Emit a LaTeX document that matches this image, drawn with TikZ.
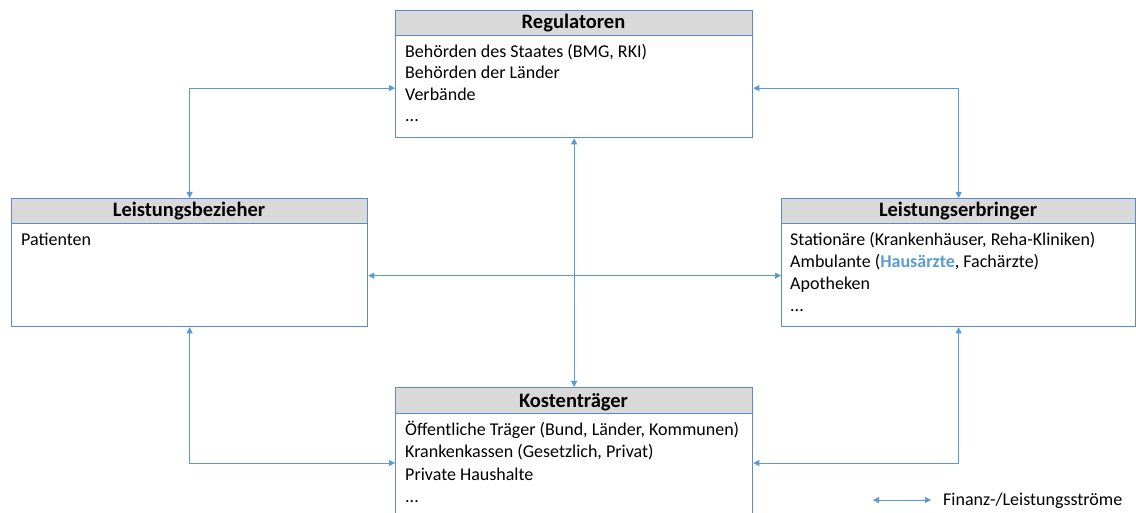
\documentclass[tikz,border=0pt]{standalone}
\usepackage{fontspec}
\setmainfont{Carlito}
\usetikzlibrary{arrows.meta}
\definecolor{boxblue}{HTML}{5B8CC8}
\definecolor{flowblue}{HTML}{5B9BD5}
\definecolor{headgray}{HTML}{D9D9D9}
\begin{document}
\begin{tikzpicture}[x=1pt,y=-1pt,
  box/.style={draw=boxblue, line width=1.3pt, fill=white, inner sep=0pt, anchor=north west},
  head/.style={draw=boxblue, line width=1.3pt, fill=headgray, inner sep=0pt, anchor=north west},
  title/.style={anchor=base, inner sep=0pt, font=\fontsize{20.5}{24}\selectfont\bfseries},
  item/.style={anchor=base west, inner sep=0pt, font=\fontsize{18}{21}\selectfont},
  flow/.style={draw=flowblue, line width=0.8pt, {Triangle[length=6pt,width=6pt]}-{Triangle[length=6pt,width=6pt]}}
]
\useasboundingbox (0,0) rectangle (1136,513);
\fill[white] (0,0) rectangle (1136,513);
\begin{scope}
\clip (0,0) rectangle (1136,513);
% Regulatoren
\node[box, minimum width=357pt, minimum height=127pt] (reg) at (395,10) {};
\node[head, minimum width=357pt, minimum height=25pt] (reghead) at (395,10) {};
\node[title] (regtitle) at (573.5,29) {Regulatoren};
\node[item] (reg1) at (405,57.5) {Behörden des Staates (BMG, RKI)};
\node[item] (reg2) at (405,79) {Behörden der Länder};
\node[item] (reg3) at (405,100.5) {Verbände};
\node[item] (reg4) at (405,122) {...};
% Leistungsbezieher
\node[box, minimum width=356pt, minimum height=128pt] (lb) at (11,198) {};
\node[head, minimum width=356pt, minimum height=25pt] (lbhead) at (11,198) {};
\node[title] (lbtitle) at (189,217) {Leistungsbezieher};
\node[item] (lb1) at (21,246) {Patienten};
% Leistungserbringer
\node[box, minimum width=354pt, minimum height=128pt] (le) at (781,198) {};
\node[head, minimum width=354pt, minimum height=25pt] (lehead) at (781,198) {};
\node[title] (letitle) at (958,217) {Leistungserbringer};
\node[item] (le1) at (790,246) {Stationäre (Krankenhäuser, Reha-Kliniken)};
\node[item] (le2) at (790,268) {Ambulante ({\bfseries\color{flowblue}Hausärzte}, Fachärzte)};
\node[item] (le3) at (790,290) {Apotheken};
\node[item] (le4) at (790,312) {...};
% Kostentraeger
\node[box, minimum width=357pt, minimum height=140pt] (kost) at (395,387) {};
\node[head, minimum width=357pt, minimum height=26pt] (kosthead) at (395,387) {};
\node[title] (kosttitle) at (573.5,407) {Kostenträger};
\node[item] (kost1) at (405,435) {Öffentliche Träger (Bund, Länder, Kommunen)};
\node[item] (kost2) at (405,457.5) {Krankenkassen (Gesetzlich, Privat)};
\node[item] (kost3) at (405,480) {Private Haushalte};
\node[item] (kost4) at (405,502) {...};
\end{scope}
% connectors
\draw[flow] ([yshift=-14pt]reg.west) -| (lb.north);
\draw[flow] ([yshift=-14pt]reg.east) -| (le.north);
\draw[flow] (reg.south) -- (kost.north);
\draw[flow] ([yshift=-13pt]lb.east) -- ([yshift=-13pt]le.west);
\draw[flow] (lb.south) |- ([yshift=-76pt]kost.north west);
\draw[flow] (le.south) |- ([yshift=-76pt]kost.north east);
% legend
\coordinate (legA) at (873,500);
\coordinate (legB) at (931,500);
\draw[flow] (legA) -- (legB);
\node[anchor=base west, inner sep=0pt, font=\fontsize{18}{21}\selectfont] (legtext) at (943,505) {Finanz-/Leistungsströme};
\end{tikzpicture}
\end{document}
